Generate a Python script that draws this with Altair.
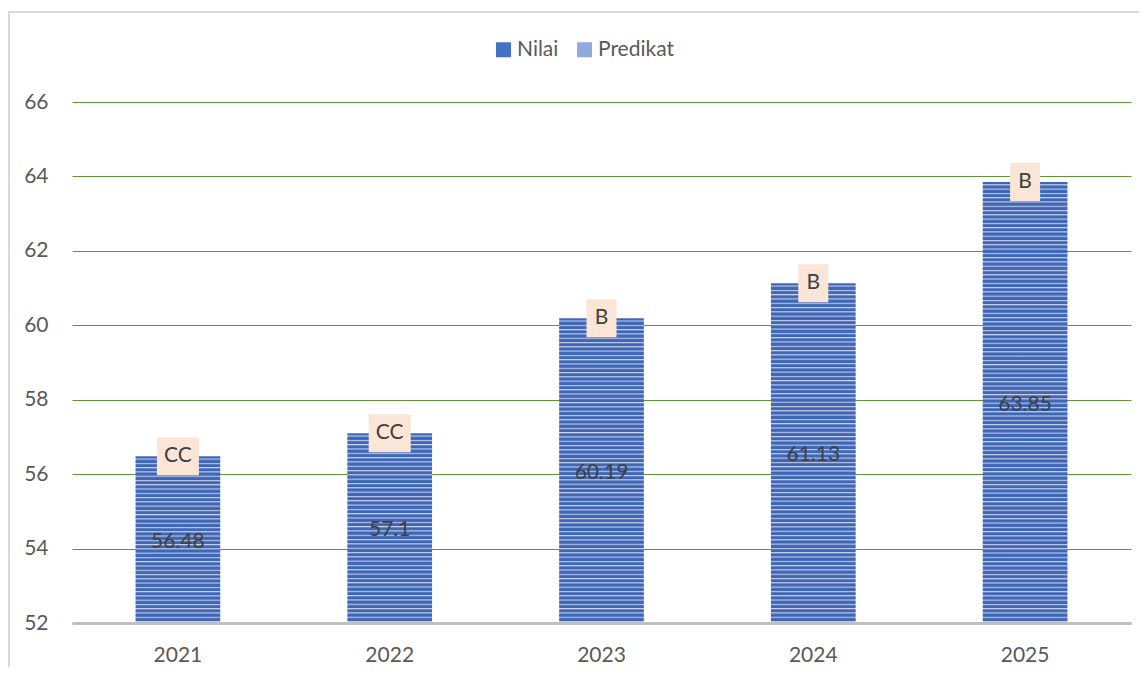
import altair as alt
import pandas as pd

years = ["2021", "2022", "2023", "2024", "2025"]
nilai = [56.48, 57.1, 60.19, 61.13, 63.85]
predikat = ["CC", "CC", "B", "B", "B"]
series = ["Nilai", "Predikat"]
y_ticks = [52, 54, 56, 58, 60, 62, 64, 66]

df = pd.DataFrame({"Tahun": years, "Nilai": nilai, "Predikat": predikat})

W, H = 1059, 521
Y_MIN, Y_MAX = 52, 66
FONT = "Lato"
DARK = "#3F67B5"
LIGHT = "#C9D4EE"
MID = "#7893CE"
PITCH = 4.3

x_enc = alt.X(
    "Tahun:N",
    sort=years,
    scale=alt.Scale(paddingInner=0.6, paddingOuter=0.3),
    axis=alt.Axis(
        title=None, labelAngle=0, ticks=False, domainColor="#BFBFBF",
        domainWidth=3, labelPadding=21, labelFontSize=21, labelColor="#595959",
        labelFont=FONT, grid=False, zindex=1,
    ),
)
y_scale = alt.Scale(domain=[Y_MIN, Y_MAX], nice=False, zero=False)
y_enc = alt.Y(
    "Nilai:Q",
    scale=y_scale,
    axis=alt.Axis(
        title=None, values=y_ticks, grid=True, gridColor="#5E9636",
        gridWidth=1, domain=False, ticks=False, labelPadding=24,
        labelFontSize=21, labelColor="#595959", labelFont=FONT,
    ),
)


def stripes(value):
    h = (value - Y_MIN) / (Y_MAX - Y_MIN) * H
    n = max(1, round(h / PITCH))
    stops = []
    for i in range(n):
        stops += [
            alt.GradientStop(offset=i / n, color=DARK),
            alt.GradientStop(offset=(i + 0.45) / n, color=DARK),
            alt.GradientStop(offset=(i + 0.62) / n, color=LIGHT),
            alt.GradientStop(offset=(i + 0.8) / n, color=MID),
            alt.GradientStop(offset=(i + 1.0) / n, color=DARK),
        ]
    return alt.LinearGradient(gradient="linear", stops=stops, x1=0, y1=0, x2=0, y2=1)


base = alt.Chart(df)

bar_layers = []
for yr, v in zip(years, nilai):
    bar_layers.append(
        base.transform_filter(alt.datum.Tahun == yr)
        .mark_bar(color=stripes(v))
        .encode(x=x_enc, y=y_enc, y2=alt.datum(Y_MIN))
    )

value_text = (
    base.transform_calculate(mid="(datum.Nilai + 52) / 2")
    .mark_text(font=FONT, fontSize=21, color="#404040", baseline="middle", dy=2)
    .encode(x=x_enc, y=alt.Y("mid:Q", scale=y_scale), text=alt.Text("Nilai:Q"))
)

label_box = (
    base.transform_calculate(bw="length(datum.Predikat) * 12 + 18")
    .mark_bar(color="#FBE5D6", yOffset=-19, y2Offset=19)
    .encode(
        x=x_enc,
        y=alt.Y("Nilai:Q", scale=y_scale),
        y2=alt.Y2("Nilai:Q"),
        size=alt.Size("bw:Q", scale=None, legend=None),
    )
)

label_text = base.mark_text(
    font=FONT, fontSize=21, color="#404040", baseline="middle"
).encode(x=x_enc, y=alt.Y("Nilai:Q", scale=y_scale), text="Predikat:N")

legend_df = pd.DataFrame({"series": series})
legend_layer = (
    alt.Chart(legend_df)
    .mark_square(opacity=0, filled=True)
    .encode(
        color=alt.Color(
            "series:N",
            scale=alt.Scale(domain=series, range=["#4472C4", "#8FAADC"]),
            legend=alt.Legend(
                title=None, orient="none", direction="horizontal",
                legendX=421, legendY=-63, symbolType="square", symbolSize=225,
                symbolOpacity=1, symbolStrokeWidth=0, labelFont=FONT,
                labelFontSize=21, labelColor="#595959", labelOffset=3,
                columnPadding=15,
            ),
        )
    )
)

frame_df = pd.DataFrame({"k": [0]})
frame_left = alt.Chart(frame_df).mark_rule(color="#D9D9D9", strokeWidth=2).encode(
    x=alt.value(-63), y=alt.value(-90), y2=alt.value(580)
)
frame_top = alt.Chart(frame_df).mark_rule(color="#D9D9D9", strokeWidth=2).encode(
    x=alt.value(-64), x2=alt.value(W + 20), y=alt.value(-90)
)

chart = (
    alt.layer(
        *bar_layers, value_text, label_box, label_text, legend_layer,
        frame_left, frame_top,
    )
    .properties(
        width=W, height=H,
        autosize=alt.AutoSizeParams(type="none"),
        padding={"left": 64, "top": 94, "right": 8, "bottom": 44},
        background="white",
    )
    .configure_view(stroke=None)
)

chart.save("out.html", embed_options={"renderer": "svg", "actions": False})
